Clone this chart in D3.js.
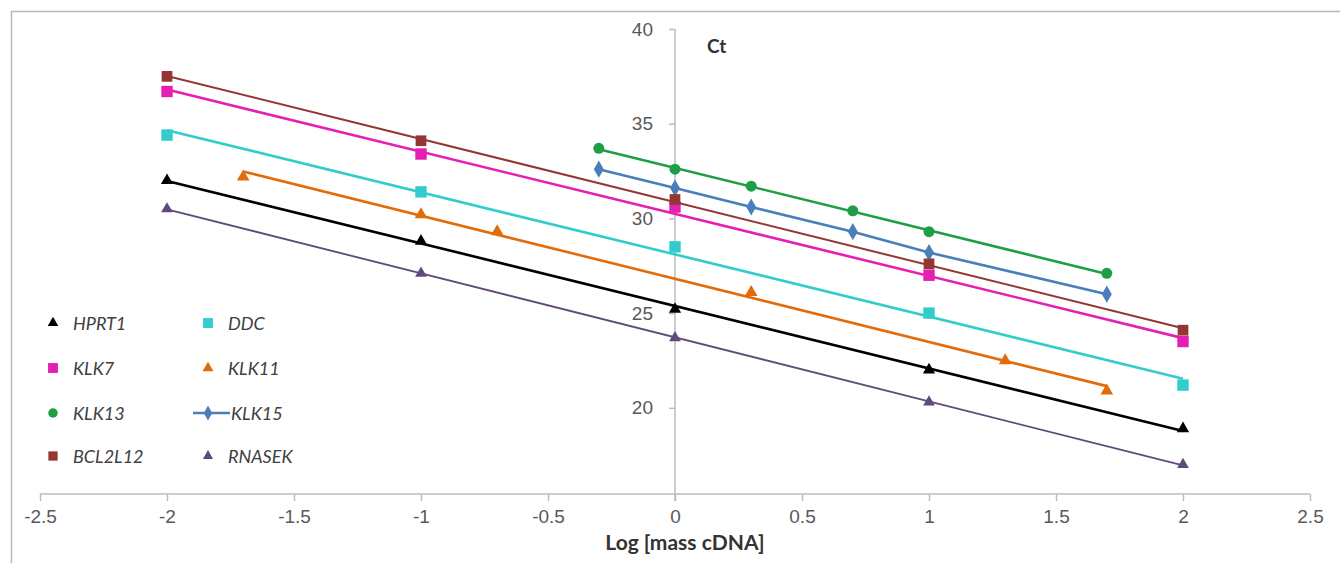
<!DOCTYPE html>
<html>
<head>
<meta charset="utf-8">
<script src="https://cdn.jsdelivr.net/npm/d3@7"></script>
<style>
  body { margin: 0; background: #fff; }
  svg { display: block; font-family: Lato, "Open Sans", sans-serif; }
</style>
</head>
<body>
<svg id="chart" width="1340" height="563"></svg>
<script>
/* Data */

const genes = ['HPRT1', 'DDC', 'KLK7', 'KLK11', 'KLK13', 'KLK15', 'BCL2L12', 'RNASEK'];

const logMass5 = [-2, -1, 0, 1, 2];
const logMass6 = [-1.7, -1, -0.7, 0.3, 1.3, 1.7];
const logMassShort = [-0.3, 0, 0.3, 0.7, 1, 1.7];

const hprt1 = [32.0, 28.8, 25.2, 22.0, 18.9];
const ddc = [34.4, 31.4, 28.5, 25.0, 21.2];
const klk7 = [36.7, 33.4, 30.6, 27.0, 23.5];
const klk11 = [32.2, 30.2, 29.3, 26.1, 22.5, 20.9];
const klk13 = [33.7, 32.6, 31.7, 30.4, 29.3, 27.1];
const klk15 = [32.6, 31.6, 30.6, 29.3, 28.2, 26.0];
const bcl2l12 = [37.5, 34.1, 31.0, 27.6, 24.1];
const rnasek = [30.5, 27.1, 23.7, 20.3, 17.0];

const xTicks = [-2.5, -2, -1.5, -1, -0.5, 0, 0.5, 1, 1.5, 2, 2.5];
const yTicks = [20, 25, 30, 35, 40];

const series = [
    { name: 'HPRT1',   x: logMass5,     y: hprt1,   color: '#000000', shape: d3.symbolTriangle, size: 65, width: 2.6 },
    { name: 'DDC',     x: logMass5,     y: ddc,     color: '#33cccc', shape: d3.symbolSquare,   size: 130, width: 2.6 },
    { name: 'KLK7',    x: logMass5,     y: klk7,    color: '#e61fb4', shape: d3.symbolSquare,   size: 130, width: 2.6 },
    { name: 'KLK11',   x: logMass6,     y: klk11,   color: '#e36c0a', shape: d3.symbolTriangle, size: 70, width: 2.6 },
    { name: 'KLK13',   x: logMassShort, y: klk13,   color: '#1f9e45', shape: d3.symbolCircle,   size: 95, width: 2.6 },
    { name: 'KLK15',   x: logMassShort, y: klk15,   color: '#4a7ebb', shape: d3.symbolDiamond,  size: 85, width: 2.6, joined: true },
    { name: 'BCL2L12', x: logMass5,     y: bcl2l12, color: '#943634', shape: d3.symbolSquare,   size: 115, width: 2 },
    { name: 'RNASEK',  x: logMass5,     y: rnasek,  color: '#604a7b', shape: d3.symbolTriangle, size: 60, width: 1.8 }
];

/* Scales */

const svg = d3.select('#chart');
const x = d3.scaleLinear().domain([-2.5, 2.5]).range([40, 1310]);
const y = d3.scaleLinear().domain([15.45, 40]).range([494, 29]);

// outer chart frame (cropped on right / bottom)
svg.append('rect')
    .attr('x', 11.5).attr('y', 11.5)
    .attr('width', 1400).attr('height', 700)
    .attr('fill', 'none')
    .attr('stroke', '#b8b8b8')
    .attr('stroke-width', 1.5);

/* Axes */

const xAxis = svg.append('g')
    .attr('transform', `translate(0,${y.range()[0]})`)
    .call(d3.axisBottom(x).tickValues(xTicks).tickSize(7).tickPadding(9).tickFormat(d3.format('')));
xAxis.select('.domain').attr('stroke', '#bdbdbd').attr('stroke-width', 1.5).attr('d', `M${x(-2.5)},0H${x(2.5)}`);
xAxis.selectAll('.tick line').attr('stroke', '#bdbdbd').attr('stroke-width', 1.5);
xAxis.selectAll('.tick text').attr('fill', '#595959').style('font-size', '19px')
    .text(d => d3.format('')(d).replace('−', '-'));

const yAxis = svg.append('g')
    .attr('transform', `translate(${x(0)},0)`)
    .call(d3.axisLeft(y).tickValues(yTicks).tickSize(6).tickPadding(16));
yAxis.select('.domain').attr('stroke', '#bdbdbd').attr('stroke-width', 1.5)
    .attr('d', `M0,${y(40)}V${y.range()[0] + 7}`);
yAxis.selectAll('.tick line').attr('stroke', '#bdbdbd').attr('stroke-width', 1.5);
yAxis.selectAll('.tick text').attr('fill', '#595959').style('font-size', '19px');

svg.append('text')
    .attr('x', 707).attr('y', 53)
    .attr('fill', '#333')
    .style('font-size', '19px').style('font-weight', 'bold')
    .text('Ct');

svg.append('text')
    .attr('x', 685).attr('y', 550)
    .attr('text-anchor', 'middle')
    .attr('fill', '#333')
    .style('font-size', '21px').style('font-weight', 'bold')
    .text('Log [mass cDNA]');

/* Series */

const fit = (xs, ys) => {
    const mx = d3.mean(xs), my = d3.mean(ys);
    const sxy = d3.sum(xs, (v, i) => (v - mx) * (ys[i] - my));
    const sxx = d3.sum(xs, v => (v - mx) * (v - mx));
    const b = sxy / sxx;
    return v => my + b * (v - mx);
};

const line = d3.line().x(d => x(d[0])).y(d => y(d[1]));

series.forEach(s => {
    const g = svg.append('g');
    let pts;
    if (s.joined) {
        pts = s.x.map((v, i) => [v, s.y[i]]);
    } else {
        const f = fit(s.x, s.y);
        const ext = d3.extent(s.x);
        pts = ext.map(v => [v, f(v)]);
    }
    g.append('path')
        .attr('d', line(pts))
        .attr('fill', 'none')
        .attr('stroke', s.color)
        .attr('stroke-width', s.width);

    g.selectAll('path.mark')
        .data(s.x.map((v, i) => [v, s.y[i]]))
        .join('path')
        .attr('class', 'mark')
        .attr('transform', d => `translate(${x(d[0])},${y(d[1])})`)
        .attr('d', d3.symbol(s.shape, s.size))
        .attr('fill', s.color);
});

/* Legend */

const legend = svg.append('g');
const legendRows = [323, 368, 413, 456];
const legendCols = [53, 208];

series.forEach((s, i) => {
    const cx = legendCols[i % 2], cy = legendRows[Math.floor(i / 2)];
    const item = legend.append('g').attr('transform', `translate(${cx},${cy})`);
    if (s.joined) {
        item.append('line')
            .attr('x1', -15).attr('x2', 22)
            .attr('stroke', s.color).attr('stroke-width', 2.5);
    }
    item.append('path')
        .attr('d', d3.symbol(s.shape, s.size * 0.75))
        .attr('fill', s.color);
    item.append('text')
        .attr('x', s.joined ? 23 : 20)
        .attr('y', 6.5)
        .attr('fill', '#404040')
        .style('font-size', '18px')
        .style('font-style', 'italic')
        .text(s.name);
});
</script>
</body>
</html>
